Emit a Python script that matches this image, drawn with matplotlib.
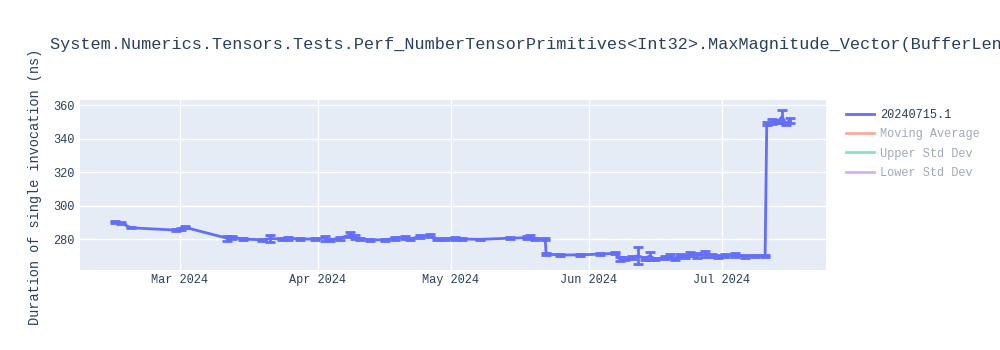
import matplotlib
matplotlib.use("Agg")
import matplotlib.pyplot as plt
import matplotlib.dates as mdates
from matplotlib.lines import Line2D
import pandas as pd

title = "System.Numerics.Tensors.Tests.Perf_NumberTensorPrimitives<Int32>.MaxMagnitude_Vector(BufferLength: 3079)"
y_label = "Duration of single invocation (ns)"
series_name = "20240715.1"
legend_names = ["20240715.1", "Moving Average", "Upper Std Dev", "Lower Std Dev"]

dates = [
    "2024-02-15 10:00", "2024-02-16 17:00", "2024-02-19 00:00", "2024-02-29 02:00",
    "2024-03-01 05:00", "2024-03-02 02:00", "2024-03-11 14:00", "2024-03-12 17:00",
    "2024-03-15 05:00", "2024-03-19 12:00", "2024-03-21 07:00", "2024-03-24 00:00",
    "2024-03-25 07:00", "2024-03-28 00:00", "2024-03-31 10:00", "2024-04-02 14:00",
    "2024-04-03 19:00", "2024-04-06 00:00", "2024-04-08 07:00", "2024-04-09 10:00",
    "2024-04-10 12:00", "2024-04-12 19:00", "2024-04-16 02:00", "2024-04-18 10:00",
    "2024-04-20 14:00", "2024-04-21 19:00", "2024-04-24 00:00", "2024-04-26 07:00",
    "2024-04-27 19:00", "2024-04-29 14:00", "2024-05-01 22:00", "2024-05-03 12:00",
    "2024-05-07 12:00", "2024-05-14 07:00", "2024-05-18 02:00", "2024-05-18 19:00",
    "2024-05-19 22:00", "2024-05-22 05:00", "2024-05-22 10:00", "2024-05-25 12:00",
    "2024-05-30 00:00", "2024-06-03 12:00", "2024-06-06 22:00", "2024-06-08 00:00",
    "2024-06-09 05:00", "2024-06-10 17:00", "2024-06-12 02:00", "2024-06-13 17:00",
    "2024-06-14 19:00", "2024-06-15 22:00", "2024-06-18 05:00", "2024-06-19 07:00",
    "2024-06-20 10:00", "2024-06-21 12:00", "2024-06-22 17:00", "2024-06-23 19:00",
    "2024-06-25 10:00", "2024-06-27 05:00", "2024-06-28 17:00", "2024-06-30 02:00",
    "2024-07-01 17:00", "2024-07-03 22:00", "2024-07-06 05:00", "2024-07-08 10:00",
    "2024-07-10 17:00", "2024-07-11 02:00", "2024-07-12 05:00", "2024-07-13 14:00",
    "2024-07-14 12:00", "2024-07-15 10:00", "2024-07-16 07:00",
]
values = [
    290.1, 289.5, 286.7, 285.3,
    285.8, 287.0, 280.5, 281.0,
    280.0, 279.5, 280.3, 280.0,
    280.5, 280.0, 280.0, 280.5,
    279.5, 280.5, 282.5, 281.0,
    280.0, 279.5, 279.5, 280.5,
    281.0, 280.0, 281.5, 282.0,
    280.0, 280.0, 280.5, 280.0,
    279.8, 280.5, 280.8, 281.5,
    280.0, 280.0, 271.0, 270.5,
    270.5, 271.0, 271.5, 268.0,
    268.5, 269.0, 270.0, 268.5,
    270.0, 268.0, 269.0, 270.0,
    268.0, 270.0, 269.5, 271.0,
    270.0, 271.0, 270.0, 269.5,
    270.0, 270.5, 269.5, 270.0,
    270.0, 349.0, 350.0, 350.0,
    353.0, 349.0, 351.0,
]
errors = [
    0.5, 0.5, 0.4, 0.6,
    0.5, 0.5, 1.5, 1.0,
    0.8, 0.8, 1.8, 0.8,
    1.0, 0.6, 0.6, 1.5,
    0.8, 1.0, 1.5, 1.2,
    0.8, 0.6, 0.6, 1.0,
    1.0, 0.8, 1.0, 1.0,
    0.8, 0.6, 1.0, 0.6,
    0.5, 0.6, 1.0, 1.0,
    0.6, 0.6, 0.6, 0.5,
    0.5, 0.6, 0.6, 1.0,
    0.8, 1.0, 5.0, 0.8,
    2.5, 0.8, 0.8, 1.0,
    0.8, 1.0, 0.8, 1.0,
    1.5, 2.0, 1.0, 0.8,
    0.8, 1.0, 0.8, 0.6,
    0.6, 1.0, 1.5, 1.0,
    4.0, 1.0, 1.5,
]
y_ticks = [280, 300, 320, 340, 360]
x_ticks = ["2024-03-01", "2024-04-01", "2024-05-01", "2024-06-01", "2024-07-01"]
x_tick_labels = ["Mar 2024", "Apr 2024", "May 2024", "Jun 2024", "Jul 2024"]
x_range = ["2024-02-07 12:00", "2024-07-24 10:00"]
y_range = [261.5, 363.0]

mono = ["Liberation Mono", "DejaVu Sans Mono"]
text_color = "#2a3f5f"
colors = ["#636efa", "#EF553B", "#00cc96", "#ab63fa"]

x = pd.to_datetime(dates)

fig = plt.figure(figsize=(10, 3.5), dpi=100)
ax = fig.add_axes([0.08, 1 - 270 / 350, 0.746, 170 / 350])
ax.set_facecolor("#E5ECF6")

ax.errorbar(x, values, yerr=errors, color=colors[0], ecolor=colors[0],
            linewidth=2, elinewidth=2, capsize=3.5, capthick=2, zorder=3)

ax.set_xlim(pd.to_datetime(x_range[0]), pd.to_datetime(x_range[1]))
ax.set_ylim(*y_range)
ax.set_yticks(y_ticks)
ax.set_xticks(pd.to_datetime(x_ticks))
ax.set_xticklabels(x_tick_labels)
ax.grid(True, color="white", linewidth=1, zorder=0)
ax.set_axisbelow(True)
for s in ax.spines.values():
    s.set_visible(False)
ax.tick_params(length=0, labelsize=8.6, labelcolor=text_color)
ax.tick_params(axis="x", pad=3)
ax.tick_params(axis="y", pad=4)
for lbl in ax.get_xticklabels() + ax.get_yticklabels():
    lbl.set_family(mono)

fig.text(0.05, 1 - 45 / 350, title, fontsize=12.2, color=text_color,
         family=mono, va="center", ha="left")
fig.text(0.035, 1 - 187 / 350, y_label, fontsize=9.8, color=text_color,
         family=mono, rotation=90, va="center", ha="center")

handles = [
    Line2D([], [], color=colors[0], linewidth=2),
    Line2D([], [], color=colors[1], linewidth=2, alpha=0.5),
    Line2D([], [], color=colors[2], linewidth=2, alpha=0.5),
    Line2D([], [], color=colors[3], linewidth=2, alpha=0.5),
]
leg = fig.legend(handles, legend_names, loc="upper left",
                 bbox_to_anchor=(0.841, 1 - 104 / 350), frameon=False,
                 prop={"family": mono, "size": 8.6}, handlelength=2.4,
                 handletextpad=0.5, labelspacing=0.62, borderaxespad=0)
for i, t in enumerate(leg.get_texts()):
    t.set_color(text_color if i == 0 else "#a0a8b8")

fig.savefig("out.png", dpi=100)
